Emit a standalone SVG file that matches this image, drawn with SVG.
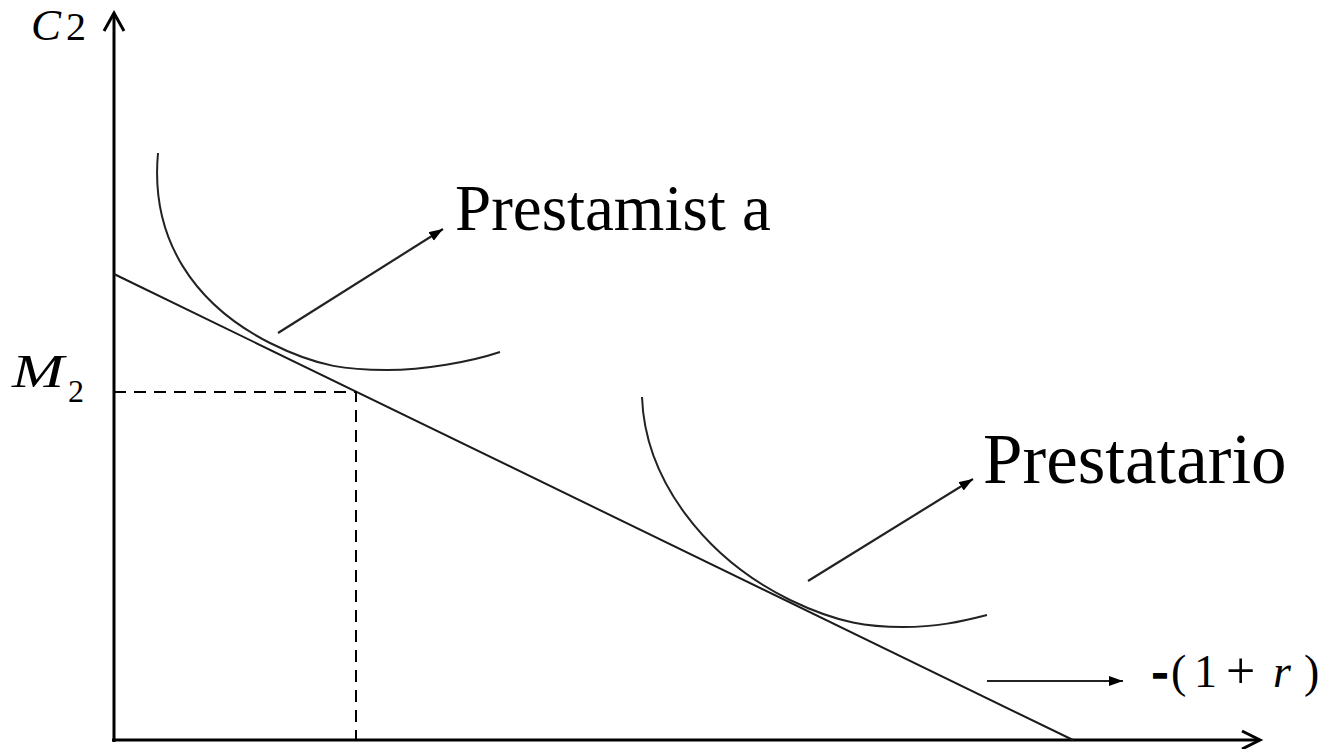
<svg xmlns="http://www.w3.org/2000/svg" width="1322" height="749" viewBox="0 0 1322 749">
<style>
.ax{stroke:#000;stroke-width:3;fill:none}
.ln{stroke:#1a1a1a;stroke-width:2;fill:none}
.cv{stroke:#222;stroke-width:2;fill:none}
.ds{stroke:#000;stroke-width:2;fill:none;stroke-dasharray:12 8}
.ar{stroke:#222;stroke-width:2.2;fill:none;marker-end:url(#ah)}
.t{font-family:'Liberation Serif','Times New Roman','DejaVu Serif',serif;fill:#000}
.it{font-style:italic}
</style>
<defs>
<marker id="ah" markerUnits="userSpaceOnUse" markerWidth="16" markerHeight="12" refX="14" refY="5" orient="auto" viewBox="0 0 16 12">
<path d="M0,0 L14,5 L0,10 z" fill="#000"/>
</marker>
</defs>
<g id="axes">
<line class="ax" x1="114" y1="742" x2="114" y2="13"/>
<polyline class="ax" stroke-width="2.5" points="104,31 114,13 124,31"/>
<line class="ax" x1="112" y1="740" x2="1259" y2="740"/>
<polyline class="ax" stroke-width="2.5" points="1242,731 1260,740 1242,749"/>
</g>
<g id="budget-line">
<line class="ln" x1="114" y1="274" x2="1073" y2="740"/>
</g>
<g id="m2-guides">
<polyline class="ds" points="114,392 356,392 356,740"/>
</g>
<g id="curve-prestamista">
<path class="cv" d="M158,153 C150,240 195,305 270,343 C320,368 350,370 387,370 S470,362 500,352"/>
</g>
<g id="curve-prestatario">
<path class="cv" d="M642,397 C645,480 705,558 790,600 C840,624 870,627 903,627 S960,622 987,615"/>
</g>
<g id="connectors">
<line class="ar" x1="278" y1="333" x2="443" y2="229"/>
<line class="ar" x1="808" y1="581" x2="973" y2="479"/>
<line class="ar" x1="987" y1="681" x2="1123" y2="681"/>
</g>
<g id="labels">
<text class="t it" x="31" y="40" font-size="45">C</text>
<text class="t" x="66" y="40" font-size="40">2</text>
<text class="t it" x="12" y="387" font-size="46" textLength="52" lengthAdjust="spacingAndGlyphs">M</text>
<text class="t" x="68" y="402" font-size="32">2</text>
<text class="t" x="455" y="230" font-size="65">Prestamist a</text>
<text class="t" x="983" y="483" font-size="71">Prestatario</text>
<text class="t" x="1152" y="687" font-size="48" font-weight="bold" stroke="#000" stroke-width="1.5">-</text>
<text class="t" x="1171" y="687" font-size="46">(</text>
<text class="t" x="1194" y="687" font-size="46">1</text>
<text class="t" x="1226" y="688" font-size="52">+</text>
<text class="t it" x="1273" y="687" font-size="46">r</text>
<text class="t" x="1304" y="687" font-size="46">)</text>
</g>
</svg>
